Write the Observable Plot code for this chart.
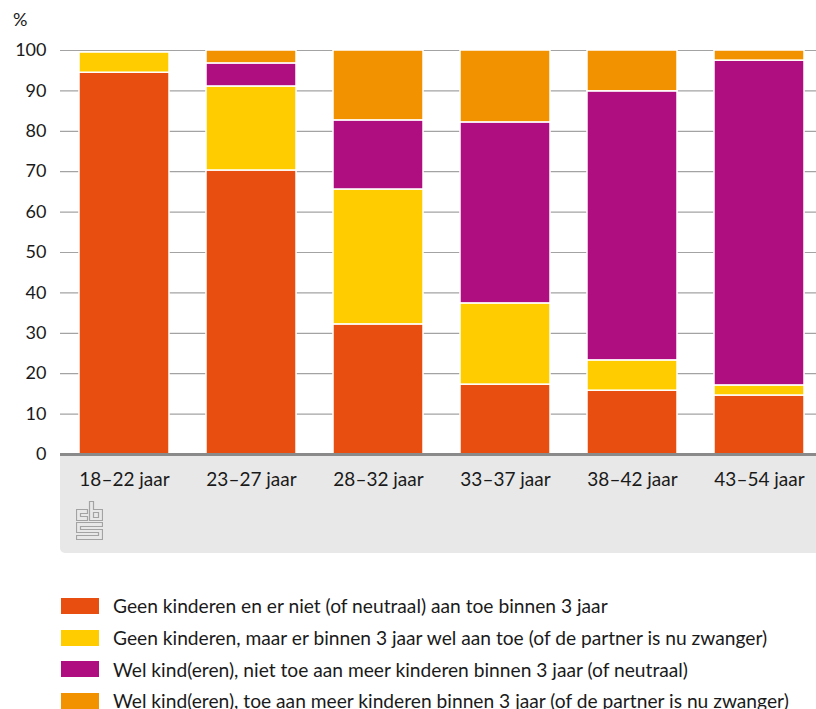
<!DOCTYPE html>
<html>
<head>
<meta charset="utf-8">
<script src="https://cdn.jsdelivr.net/npm/d3@7"></script>
<script src="https://cdn.jsdelivr.net/npm/@observablehq/plot@0.6"></script>
<style>
  html, body { margin: 0; padding: 0; background: #fff; overflow: hidden; }
  #wrap { position: relative; width: 816px; height: 709px; overflow: hidden; font-family: Lato, "Noto Sans", sans-serif; color: #1a1a1a; }
  #panel { position: absolute; left: 60px; top: 456px; width: 780px; height: 97px; background: #e8e8e8; border-bottom-left-radius: 5px; }
  #chart { position: absolute; left: 0; top: 0; width: 823px; }
  #chart svg { max-width: none !important; }
  #pct { position: absolute; left: 13px; top: 8px; font-size: 18px; }
  #logo { position: absolute; left: 76px; top: 501px; }
  #legend { position: absolute; left: 61px; top: 590px; }
  .row { display: flex; align-items: center; height: 31.7px; font-size: 19.2px; white-space: nowrap; }
  .sw { width: 38px; height: 16px; margin-right: 14px; flex: none; }
</style>
</head>
<body>
<div id="wrap">
  <div id="panel"></div>
  <div id="chart"></div>
  <div id="pct">%</div>
  <svg id="logo" width="27" height="39" viewBox="-0.5 -0.5 27 39">
    <g fill="none" stroke="#a3a3a3" stroke-width="1.2">
      <path d="M0,8 H11 V12 H4 V15 H11 V19 H0 Z"/>
      <path d="M13,0 H17 V8 H26 V19 H13 Z"/>
      <path d="M17,11 H22 V16 H17 Z"/>
      <path d="M0,21 H26 V25 H4 V28 H26 V38 H0 V34 H22 V31 H0 Z"/>
    </g>
  </svg>
  <div id="legend"></div>
</div>
<script>
const categories = ["18–22 jaar", "23–27 jaar", "28–32 jaar", "33–37 jaar", "38–42 jaar", "43–54 jaar"];
const seriesLabels = [
  "Geen kinderen en er niet (of neutraal) aan toe binnen 3 jaar",
  "Geen kinderen, maar er binnen 3 jaar wel aan toe (of de partner is nu zwanger)",
  "Wel kind(eren), niet toe aan meer kinderen binnen 3 jaar (of neutraal)",
  "Wel kind(eren), toe aan meer kinderen binnen 3 jaar (of de partner is nu zwanger)"
];
const geenNiet = [94.5, 70.3, 32.2, 17.3, 15.8, 14.6];
const geenWel  = [5.0, 20.8, 33.4, 20.1, 7.5, 2.5];
const welNiet  = [0.0, 5.7, 17.1, 44.8, 66.6, 80.4];
const welToe   = [0.0, 3.2, 17.3, 17.8, 10.1, 2.5];
const colors = ["#e84e0f", "#ffcc00", "#af0e80", "#f39200"];
const yTicks = [0, 10, 20, 30, 40, 50, 60, 70, 80, 90, 100];

const seriesValues = [geenNiet, geenWel, welNiet, welToe];
const data = [];
categories.forEach((c, i) => {
  seriesValues.forEach((vals, s) => {
    data.push({cat: c, series: seriesLabels[s], value: vals[i]});
  });
});

const chart = Plot.plot({
  width: 823,
  height: 556,
  marginLeft: 60,
  marginRight: 0,
  marginTop: 50,
  marginBottom: 102,
  style: {background: "transparent", fontFamily: "Lato, 'Noto Sans', sans-serif", fontSize: "18px", color: "#1a1a1a", overflow: "visible", maxWidth: "none"},
  x: {domain: categories, paddingInner: 0.29, paddingOuter: 0.145, label: null, tickSize: 0, tickPadding: 18},
  y: {domain: [0, 100], ticks: yTicks, label: null, tickSize: 0, tickPadding: 14},
  color: {domain: seriesLabels, range: colors},
  marks: [
    Plot.ruleY(yTicks.filter(t => t > 0), {stroke: "#a3a3a3", strokeWidth: 1.2}),
    Plot.barY(data, {x: "cat", y: "value", fill: "series", stroke: "white", strokeWidth: 1.5, order: null}),
    Plot.ruleY([0], {stroke: "#8a8a8a", strokeWidth: 3})
  ]
});
document.getElementById("chart").appendChild(chart);
d3.select(chart).selectAll('[aria-label="x-axis tick label"] text, [aria-label="x-axis tick label"]').style("font-size", "19px");

const legend = document.getElementById("legend");
seriesLabels.forEach((lab, i) => {
  const row = document.createElement("div");
  row.className = "row";
  const sw = document.createElement("span");
  sw.className = "sw";
  sw.style.background = colors[i];
  const t = document.createElement("span");
  t.textContent = lab;
  row.appendChild(sw);
  row.appendChild(t);
  legend.appendChild(row);
});
</script>
</body>
</html>
